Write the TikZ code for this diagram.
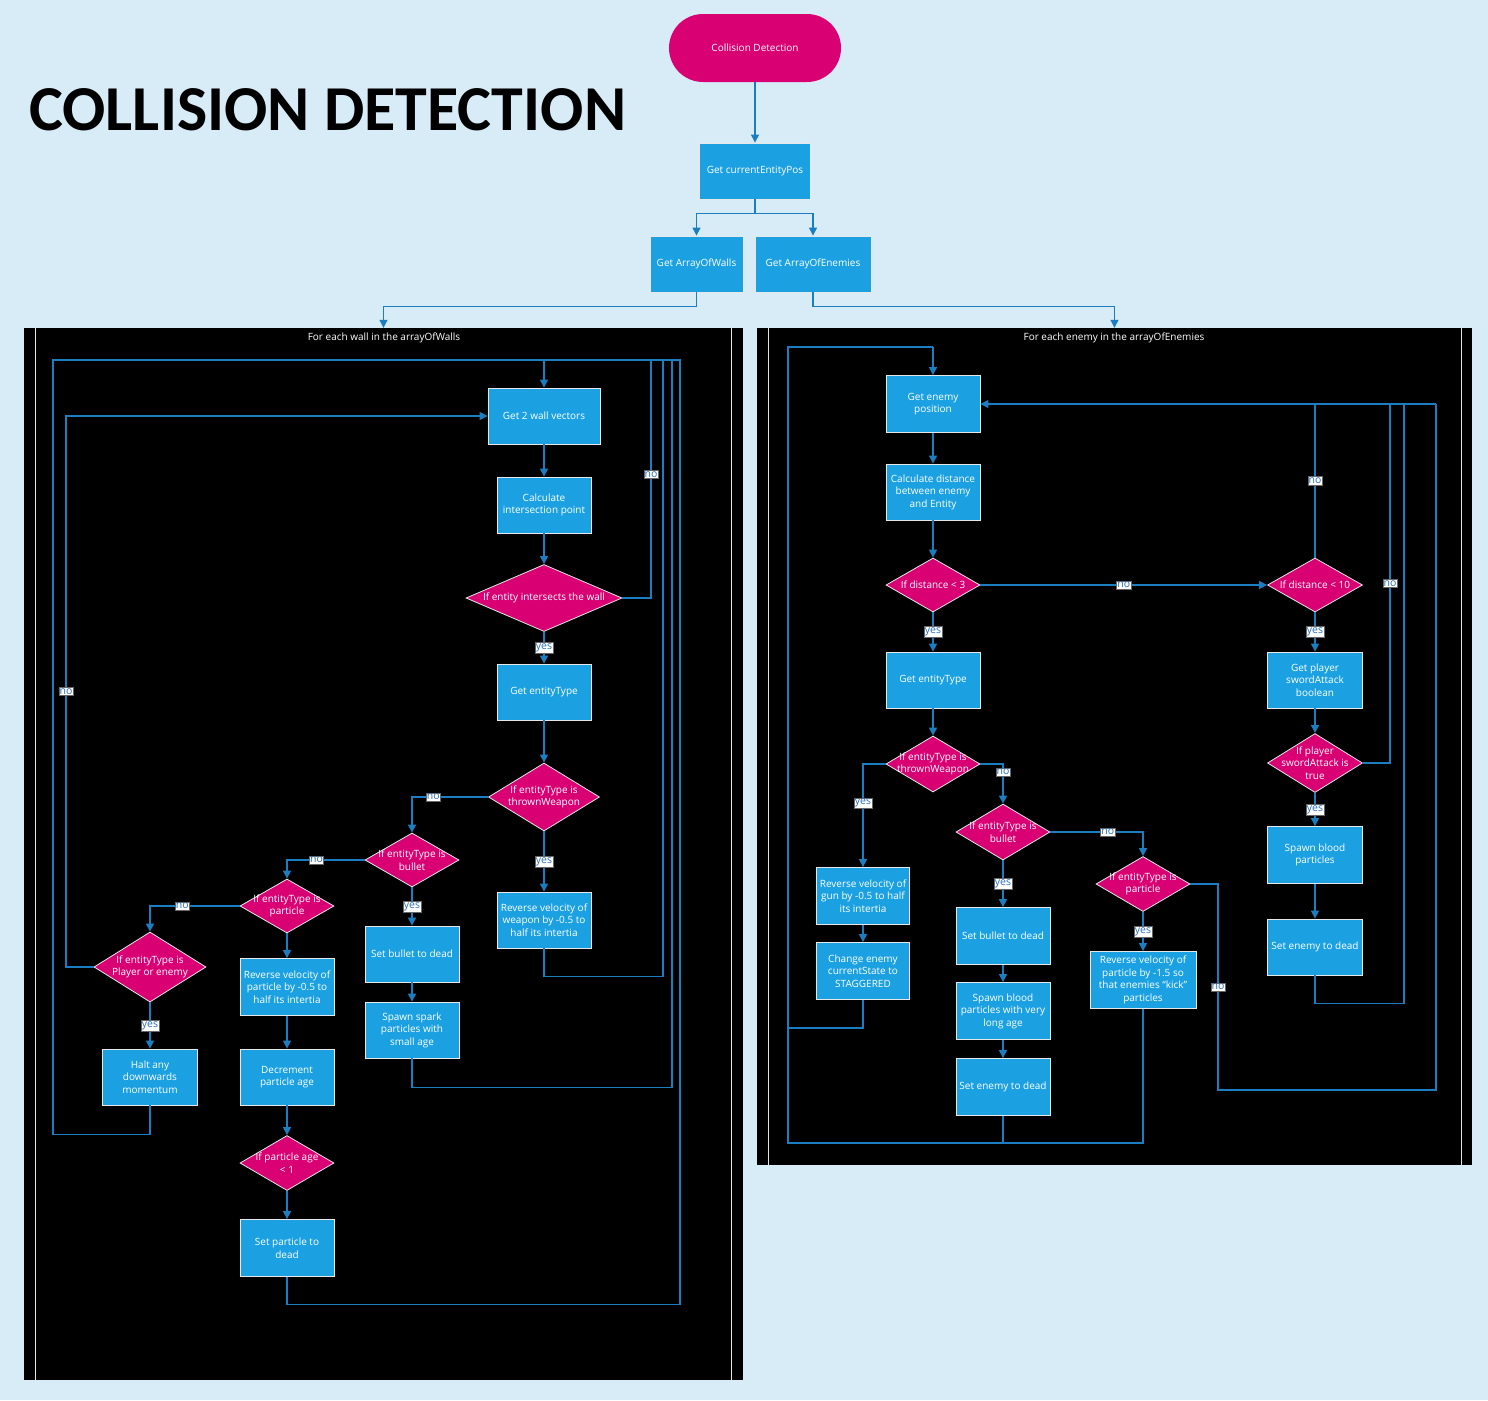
\documentclass[tikz,border=0pt]{standalone}
\usepackage{fontspec}
\setmainfont{Open Sans}
\newfontfamily\titlefont{Carlito}
\usetikzlibrary{shapes.geometric,arrows.meta}
\definecolor{bg}{HTML}{D8ECF8}
\definecolor{cyanbox}{HTML}{1BA1E2}
\definecolor{mag}{HTML}{D80073}
\definecolor{wire}{HTML}{1A7EC0}
\definecolor{lbl}{HTML}{2A6EBB}
\definecolor{edge}{HTML}{E8E8E8}
\tikzset{
  x=1pt, y=-1pt,
  txt/.style={text=white, align=center, font=\fontsize{10}{12.5}\selectfont},
  box/.style={rectangle, fill=cyanbox, draw=edge, line width=0.8pt, txt, inner sep=0.5pt},
  dia/.style={diamond, fill=mag, draw=edge, line width=0.8pt, inner sep=0pt},
  dtext/.style={txt, inner sep=0pt},
  pill/.style={rectangle, rounded corners=34pt, fill=mag, txt, minimum width=172pt, minimum height=68pt},
  panel/.style={rectangle, fill=black, inner sep=0pt},
  ptitle/.style={text=white, font=\fontsize{10}{12}\selectfont, inner sep=0pt},
  wire/.style={draw=wire, line width=1.1pt},
  arr/.style={wire, -{Triangle[length=8pt,width=8pt]}},
  lab/.style={fill=white, draw=black!60, line width=0.4pt, text=lbl, font=\fontsize{10.5}{12}\selectfont, inner xsep=0.8pt, inner ysep=1.2pt},
  sep/.style={draw=white!80!gray, line width=1pt},
}
\begin{document}
\begin{tikzpicture}
\useasboundingbox (0,0) rectangle (1488,1400);
\fill[bg] (0,0) rectangle (1488,1400);

% title
\node[anchor=west, inner sep=0pt, font=\titlefont\bfseries\fontsize{64}{64}\selectfont] (title) at (29,110) {COLLISION DETECTION};

% top
\node[pill] (start) at (755,48) {Collision Detection};
\node[box, minimum width=111, minimum height=56] (cep) at (755,171) {Get currentEntityPos};
\node[box, minimum width=93, minimum height=56] (walls) at (696.5,264) {Get ArrayOfWalls};
\node[box, minimum width=116, minimum height=56] (enem) at (813,264) {Get ArrayOfEnemies};

% panels
\node[panel, minimum width=719, minimum height=1052] (lpanel) at (383.5,854) {};
\node[panel, minimum width=715, minimum height=837] (rpanel) at (1114.5,746.5) {};
\draw[sep] (35,328) -- (35,1380);
\draw[sep] (731,328) -- (731,1380);
\draw[sep] (768,328) -- (768,1165);
\draw[sep] (1461,328) -- (1461,1165);
\node[ptitle] (ltitle) at (384,337.5) {For each wall in the arrayOfWalls};
\node[ptitle] (rtitle) at (1114,337.5) {For each enemy in the arrayOfEnemies};

\draw[arr] (start.south) -- (cep.north);
\draw[arr] (cep.south) -- ++(0,14) -| (walls.north);
\draw[arr] (cep.south) -- ++(0,14) -| (enem.north);
\draw[arr] (walls.south) -- ++(0,14) -| (lpanel.north);
\draw[arr] (enem.south) -- ++(0,14) -| (rpanel.north);

% ---------- left panel ----------
\node[box, minimum width=112, minimum height=56] (L1) at (544,416) {Get 2 wall vectors};
\node[box, minimum width=94, minimum height=56] (L2) at (544,505) {Calculate\\intersection point};
\node[dia, minimum width=156, minimum height=67] (LD1) at (544,598) {};
\node[dtext] (LD1t) at (LD1) {If entity intersects the wall};
\node[box, minimum width=94, minimum height=56] (L3) at (544,692) {Get entityType};
\node[dia, minimum width=111, minimum height=68] (LD2) at (544,797) {};
\node[dtext] (LD2t) at (LD2) {If entityType is\\thrownWeapon};
\node[box, minimum width=94, minimum height=56] (L4) at (544,920) {Reverse velocity of\\weapon by -0.5 to\\half its intertia};
\node[dia, minimum width=94, minimum height=54] (LD3) at (412,860) {};
\node[dtext] (LD3t) at (LD3) {If entityType is\\bullet};
\node[box, minimum width=94, minimum height=56] (L5) at (412,954) {Set bullet to dead};
\node[box, minimum width=94, minimum height=56] (L6) at (412,1030) {Spawn spark\\particles with\\small age};
\node[dia, minimum width=94, minimum height=54] (LD4) at (287,906) {};
\node[dtext] (LD4t) at (LD4) {If entityType is\\particle};
\node[box, minimum width=94, minimum height=57] (L7) at (287,987) {Reverse velocity of\\particle by -0.5 to\\half its intertia};
\node[box, minimum width=94, minimum height=56] (L8) at (287,1077) {Decrement\\particle age};
\node[dia, minimum width=94, minimum height=55] (LD5) at (287,1163) {};
\node[dtext] (LD5t) at (LD5) {If particle age\\< 1};
\node[box, minimum width=94, minimum height=57] (L9) at (287,1248) {Set particle to\\dead};
\node[dia, minimum width=112, minimum height=70] (LD6) at (150,967) {};
\node[dtext] (LD6t) at (LD6) {If entityType is\\Player or enemy};
\node[box, minimum width=95, minimum height=56] (L10) at (150,1077) {Halt any\\downwards\\momentum};

\coordinate (ltop) at (544,360);
\draw[arr] (L1.south) -- (L2.north);
\draw[arr] (L2.south) -- (LD1.north);
\draw[arr] (LD1.south) -- node[lab]{yes} (L3.north);
\draw[arr] (L3.south) -- (LD2.north);
\draw[arr] (LD2.south) -- node[lab]{yes} (L4.north);
\draw[arr] (LD2.west) -| node[lab,pos=0.36]{no} (LD3.north);
\draw[arr] (LD3.south) -- node[lab]{yes} (L5.north);
\draw[arr] (L5.south) -- (L6.north);
\draw[arr] (LD3.west) -| node[lab,pos=0.31]{no} (LD4.north);
\draw[arr] (LD4.south) -- (L7.north);
\draw[arr] (L7.south) -- (L8.north);
\draw[arr] (L8.south) -- (LD5.north);
\draw[arr] (LD5.south) -- (L9.north);
\draw[arr] (LD4.west) -| node[lab,pos=0.32]{no} (LD6.north);
\draw[arr] (LD6.south) -- node[lab]{yes} (L10.north);
\draw[arr] (LD6.west) -| node[lab,pos=0.75]{no} (66,416) -- (L1.west);
\draw[wire] (LD1.east) -| node[lab,pos=0.76]{no} (651,360) -- (ltop);
\draw[wire] (L4.south) -- ++(0,28) -| (663,360) -- (ltop);
\draw[wire] (L6.south) -- ++(0,29) -| (672,360) -- (ltop);
\draw[wire] (L9.south) -- ++(0,28) -| (680,360) -- (ltop);
\draw[wire] (L10.south) -- ++(0,29) -| (53,360) -- (ltop);
\draw[arr] (ltop) -- (L1.north);

% ---------- right panel ----------
\node[box, minimum width=94, minimum height=57] (R1) at (933,404) {Get enemy\\position};
\node[box, minimum width=94, minimum height=56] (R2) at (933,492) {Calculate distance\\between enemy\\and Entity};
\node[dia, minimum width=94, minimum height=54] (RD1) at (933,585) {};
\node[dtext] (RD1t) at (RD1) {If distance < 3};
\node[dia, minimum width=95, minimum height=54] (RD2) at (1315,585) {};
\node[dtext] (RD2t) at (RD2) {If distance < 10};
\node[box, minimum width=94, minimum height=56] (R3) at (933,680) {Get entityType};
\node[dia, minimum width=94, minimum height=56] (RD3) at (933,764) {};
\node[dtext] (RD3t) at (RD3) {If entityType is\\thrownWeapon};
\node[box, minimum width=93, minimum height=57] (R4) at (863,896) {Reverse velocity of\\gun by -0.5 to half\\its intertia};
\node[box, minimum width=93, minimum height=57] (R5) at (863,971) {Change enemy\\currentState to\\STAGGERED};
\node[dia, minimum width=94, minimum height=56] (RD4) at (1003,832) {};
\node[dtext] (RD4t) at (RD4) {If entityType is\\bullet};
\node[box, minimum width=94, minimum height=57] (R6) at (1003,936) {Set bullet to dead};
\node[box, minimum width=94, minimum height=57] (R7) at (1003,1011) {Spawn blood\\particles with very\\long age};
\node[box, minimum width=94, minimum height=57] (R8) at (1003,1087) {Set enemy to dead};
\node[dia, minimum width=94, minimum height=55] (RD5) at (1143,884) {};
\node[dtext] (RD5t) at (RD5) {If entityType is\\particle};
\node[box, minimum width=106, minimum height=57] (R9) at (1143,980) {Reverse velocity of\\particle by -1.5 so\\that enemies ``kick''\\particles};
\node[box, minimum width=95, minimum height=56] (R10) at (1315,680) {Get player\\swordAttack\\boolean};
\node[dia, minimum width=95, minimum height=59] (RD6) at (1315,763) {};
\node[dtext] (RD6t) at (RD6) {If player\\swordAttack is\\true};
\node[box, minimum width=95, minimum height=57] (R11) at (1315,855) {Spawn blood\\particles};
\node[box, minimum width=95, minimum height=56] (R12) at (1315,947) {Set enemy to dead};

\coordinate (rtop) at (933,347);
\coordinate (rret) at (1436,404);
\draw[arr] (R1.south) -- (R2.north);
\draw[arr] (R2.south) -- (RD1.north);
\draw[arr] (RD1.east) -- node[lab]{no} (RD2.west);
\draw[arr] (RD1.south) -- node[lab]{yes} (R3.north);
\draw[arr] (R3.south) -- (RD3.north);
\draw[arr] (RD3.west) -| node[lab,pos=0.69]{yes} (R4.north);
\draw[arr] (R4.south) -- (R5.north);
\draw[arr] (RD3.east) -| node[lab,pos=0.6]{no} (RD4.north);
\draw[arr] (RD4.south) -- node[lab]{yes} (R6.north);
\draw[arr] (R6.south) -- (R7.north);
\draw[arr] (R7.south) -- (R8.north);
\draw[arr] (RD4.east) -| node[lab,pos=0.31]{no} (RD5.north);
\draw[arr] (RD5.south) -- node[lab]{yes} (R9.north);
\draw[arr] (RD2.south) -- node[lab]{yes} (R10.north);
\draw[arr] (R10.south) -- (RD6.north);
\draw[arr] (RD6.south) -- node[lab]{yes} (R11.north);
\draw[arr] (R11.south) -- (R12.north);

\draw[wire] (R5.south) |- (788,1028);
\draw[wire] (R8.south) -- (1003,1143);
\draw[wire] (R9.south) |- (788,1143) -- (788,347) -- (rtop);
\draw[arr] (rtop) -- (R1.north);
\draw[wire] (RD2.north) -- node[lab]{no} (1315,404);
\draw[wire] (RD6.east) -| node[lab,pos=0.75]{no} (1390,404);
\draw[wire] (R12.south) -- ++(0,28) -| (1404,404);
\draw[wire] (RD5.east) -| node[lab,pos=0.75]{no} (1218,1090) -| (rret);
\draw[arr] (rret) -- (R1.east);
\end{tikzpicture}
\end{document}
